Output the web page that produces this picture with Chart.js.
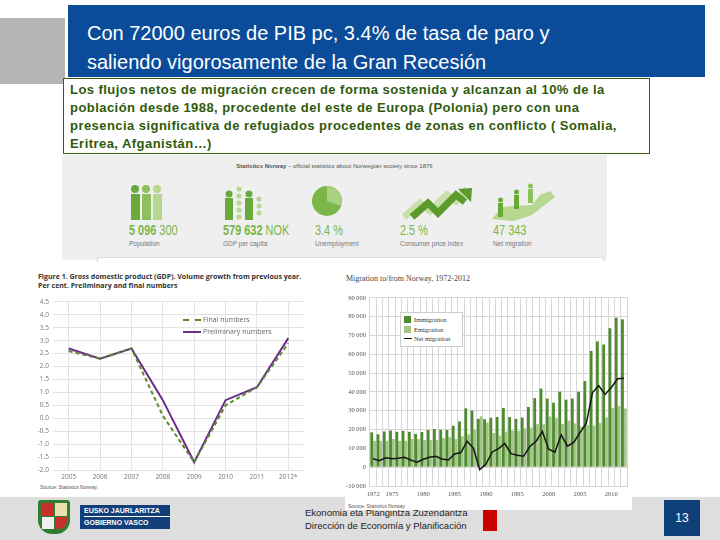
<!DOCTYPE html>
<html>
<head>
<meta charset="utf-8">
<script src="https://cdn.jsdelivr.net/npm/chart.js@4/dist/chart.umd.min.js"></script>
<style>
  body { margin: 0; width: 720px; height: 540px; overflow: hidden; background: #fff; position: relative; font-family: "Liberation Sans", Arial, sans-serif; }
  .abs { position: absolute; }
  .gray-sq { left: 0; top: 18px; width: 65px; height: 66px; background: #b5b5b5; }
  .title-bar { left: 68px; top: 5px; width: 637px; height: 72px; background: #0a4c9a; }
  .title { left: 87px; top: 19px; color: #fff; font-size: 20px; line-height: 29px; white-space: nowrap; }
  .note { left: 63px; top: 78px; width: 585px; height: 74px; border: 1px solid #3d5f14; background: #fff; }
  .note p { margin: 0; padding: 2px 0 0 6px; color: #2f5a0c; font-weight: bold; font-size: 13px; letter-spacing: 0.45px; line-height: 18px; white-space: nowrap; }
  .banner { left: 62px; top: 155px; width: 545px; height: 105px; background: #efefef; }
  .banner .head { position: absolute; left: 0; width: 545px; top: 8px; text-align: center; font-size: 6px; color: #555; }
  .stat { position: absolute; top: 67px; }
  .stat .num { font-size: 14px; color: #7ab648; white-space: nowrap; transform: scaleX(0.78); transform-origin: left; }
  .stat .num b { font-weight: bold; }
  .stat .lbl { font-size: 6.5px; color: #777; margin-top: 2px; white-space: nowrap; }
  .inner-box { left: 97px; top: 257px; width: 505px; height: 4px; border: 1px solid #ddd; border-bottom: none; background: #fff; }
  .gdp-title { left: 38px; top: 272px; font-size: 7px; font-weight: bold; color: #333; line-height: 9px; font-family: "Open Sans", sans-serif; white-space: nowrap; }
  .src { font-size: 5px; color: #555; }
  .gdp-legend { left: 183px; top: 314px; font-size: 7px; color: #666; font-family: "Open Sans", sans-serif; line-height: 12px; }
  .gdp-legend span.sw { display: inline-block; width: 18px; vertical-align: middle; margin-right: 2px; }
  .mig-box { left: 345px; top: 268px; width: 287px; height: 242px; background: #fff; }
  .mig-title { left: 346px; top: 274px; font-size: 8px; color: #444; font-family: "Liberation Serif", serif; }
  .mig-legend { left: 400px; top: 312px; width: 55px; padding: 2px 3px; border: 1px solid #ccc; background: #fff; font-family: "Liberation Serif", serif; font-size: 6.5px; color: #333; line-height: 9.5px; }
  .mig-legend .sq { display: inline-block; width: 7px; height: 7px; vertical-align: -1px; margin-right: 3px; }
  .mig-legend .ln { display: inline-block; width: 8px; height: 1.5px; background: #111; vertical-align: 2px; margin-right: 2px; }
  .footer { left: 0; top: 497px; width: 720px; height: 43px; background: #dedede; }
  .eusko { left: 80px; top: 505px; width: 90px; height: 24px; background: #123f78; color: #fff; font-size: 7px; font-weight: bold; line-height: 11px; padding-left: 4px; box-sizing: border-box; }
  .eusko div:first-child { border-bottom: 1px solid #fff; }
  .dir { left: 305px; top: 506px; font-size: 9.5px; color: #222; line-height: 13px; }
  .red { left: 483px; top: 508px; width: 14px; height: 23px; background: #cc0000; }
  .page { left: 664px; top: 500px; width: 36px; height: 36px; background: #0f3f78; color: #fff; font-size: 12px; text-align: center; line-height: 36px; }
</style>
</head>
<body>
<div class="abs gray-sq"></div>
<div class="abs title-bar"></div>
<div class="abs title">Con 72000 euros de PIB pc, 3.4% de tasa de paro y<br>saliendo vigorosamente de la Gran Recesión</div>
<div class="abs note"><p>Los flujos netos de migración crecen de forma sostenida y alcanzan al 10% de la<br>población desde 1988, procedente del este de Europa (Polonia) pero con una<br>presencia significativa de refugiados procedentes de zonas en conflicto ( Somalia,<br>Eritrea, Afganistán…)</p></div>

<div class="abs banner">
  <div class="head"><b>Statistics Norway</b> – official statistics about Norwegian society since 1876</div>
  <svg class="abs" style="left:0;top:0" width="545" height="70">
    <!-- population -->
    <g><circle cx="73" cy="34" r="4" fill="#6aa83a"/><rect x="69" y="39" width="9" height="26" fill="#6aa83a"/>
       <circle cx="84" cy="34" r="4" fill="#8cc05a"/><rect x="80" y="39" width="9" height="26" fill="#8cc05a"/>
       <circle cx="95" cy="34" r="4" fill="#b5d78f"/><rect x="91" y="39" width="9" height="26" fill="#b5d78f"/></g>
    <!-- gdp -->
    <g><circle cx="167" cy="39" r="3.5" fill="#6aa83a"/><rect x="163" y="43" width="8" height="22" fill="#6aa83a"/>
       <circle cx="177" cy="34" r="2.5" fill="#b5d78f"/><circle cx="177" cy="41" r="2.5" fill="#b5d78f"/><circle cx="177" cy="48" r="2.5" fill="#b5d78f"/><circle cx="177" cy="55" r="2.5" fill="#b5d78f"/><circle cx="177" cy="62" r="2.5" fill="#b5d78f"/>
       <circle cx="187" cy="39" r="3.5" fill="#6aa83a"/><rect x="183" y="43" width="8" height="22" fill="#6aa83a"/>
       <circle cx="197" cy="44" r="2.5" fill="#b5d78f"/><circle cx="197" cy="51" r="2.5" fill="#b5d78f"/><circle cx="197" cy="58" r="2.5" fill="#b5d78f"/></g>
    <!-- unemployment pie -->
    <circle cx="265" cy="46" r="15" fill="#7ab648"/>
    <path d="M265 46 L265 31 A15 15 0 0 1 279 51 Z" fill="#a9d17f"/>
    <!-- cpi arrows -->
    <polyline points="342,62 358,48 368,56 385,40 394,46 405,34" fill="none" stroke="#c6e0a8" stroke-width="7"/>
    <polyline points="350,62 366,48 376,58 394,40 403,47" fill="none" stroke="#5c9a2c" stroke-width="7"/>
    <polygon points="396,34 410,33 409,47" fill="#5c9a2c"/>
    <!-- net migration -->
    <polygon points="430,64 440,52 470,50 478,40 488,36 493,42 480,52 470,60 452,66" fill="#b5d78f"/>
    <rect x="436" y="48" width="5" height="14" fill="#6aa83a"/><circle cx="438.5" cy="45" r="2.5" fill="#6aa83a"/>
    <rect x="452" y="40" width="5" height="14" fill="#6aa83a"/><circle cx="454.5" cy="37" r="2.5" fill="#6aa83a"/>
    <rect x="466" y="34" width="5" height="14" fill="#8cc05a"/><circle cx="468.5" cy="31" r="2.5" fill="#8cc05a"/>
  </svg>
  <div class="stat" style="left:67px"><div class="num"><b>5 096</b> 300</div><div class="lbl">Population</div></div>
  <div class="stat" style="left:161px"><div class="num"><b>579 632</b> NOK</div><div class="lbl">GDP per capita</div></div>
  <div class="stat" style="left:253px"><div class="num">3.4 %</div><div class="lbl">Unemployment</div></div>
  <div class="stat" style="left:338px"><div class="num">2.5 %</div><div class="lbl">Consumer price index</div></div>
  <div class="stat" style="left:431px"><div class="num">47 343</div><div class="lbl">Net migration</div></div>
</div>
<div class="abs inner-box"></div>

<div class="abs gdp-title">Figure 1. Gross domestic product (GDP). Volume growth from previous year.<br>Per cent. Preliminary and final numbers</div>
<canvas id="gdpChart" class="abs" style="left:33px;top:294px" width="275" height="188"></canvas>
<div class="abs gdp-legend">
  <div><span class="sw" style="border-top:2px dashed #5a8a2a"></span>Final numbers</div>
  <div><span class="sw" style="border-top:2px solid #6b2d8c"></span>Preliminary numbers</div>
</div>
<div class="abs src" style="left:40px;top:484px">Source: Statistics Norway.</div>

<div class="abs footer"></div>
<div class="abs" style="left:38px;top:500px;width:32px;height:34px;background:#2f7d32;border-radius:3px 3px 14px 14px"></div>
<div class="abs" style="left:42px;top:503px;width:12px;height:13px;background:#c8302c"></div>
<div class="abs" style="left:55px;top:503px;width:12px;height:13px;background:#e8e0b0"></div>
<div class="abs" style="left:42px;top:517px;width:12px;height:12px;background:#f0f0f0"></div>
<div class="abs" style="left:55px;top:517px;width:12px;height:12px;background:#c8302c;border-radius:0 0 8px 0"></div>
<div class="abs eusko"><div>EUSKO JAURLARITZA</div><div>GOBIERNO VASCO</div></div>
<div class="abs dir">Ekonomia eta Plangintza Zuzendaritza<br>Dirección de Economía y Planificación</div>
<div class="abs red"></div>
<div class="abs page">13</div>

<div class="abs mig-box"></div>
<div class="abs mig-title">Migration to/from Norway, 1972-2012</div>
<canvas id="migChart" class="abs" style="left:343px;top:290px" width="290" height="210"></canvas>
<div class="abs mig-legend">
  <div><span class="sq" style="background:#4e8a2e"></span>Immigration</div>
  <div><span class="sq" style="background:#a3c585"></span>Emigration</div>
  <div><span class="ln"></span>Net migration</div>
</div>
<div class="abs src" style="left:348px;top:503px">Source: Statistics Norway</div>

<script>
// GDP growth, per cent
const gdpYears = ['2005', '2006', '2007', '2008', '2009', '2010', '2011', '2012*'];
const gdpFinal = [2.6, 2.3, 2.7, 0.1, -1.7, 0.5, 1.2, 2.9];
const gdpPreliminary = [2.7, 2.3, 2.7, 0.7, -1.7, 0.7, 1.2, 3.1];

// Migration to/from Norway
const migYears = ['1972', '1973', '1974', '1975', '1976', '1977', '1978', '1979', '1980', '1981',
    '1982', '1983', '1984', '1985', '1986', '1987', '1988', '1989', '1990', '1991',
    '1992', '1993', '1994', '1995', '1996', '1997', '1998', '1999', '2000', '2001',
    '2002', '2003', '2004', '2005', '2006', '2007', '2008', '2009', '2010', '2011', '2012'];
const immigration = [18500, 17500, 19000, 19500, 18800, 19300, 18800, 17700, 18700, 19800,
    20300, 19900, 19800, 22000, 24300, 31300, 30100, 25700, 25500, 26300,
    26700, 31500, 26700, 25700, 26400, 32000, 36700, 41800, 36500, 34300,
    40100, 35900, 36500, 40100, 45800, 61800, 66900, 65200, 73900, 79500, 78600];
const emigration = [14000, 14000, 14000, 15000, 14000, 14000, 15000, 15000, 14500, 14500,
    14500, 15500, 16000, 15000, 16500, 17500, 20000, 27000, 23800, 18200,
    16800, 18900, 19500, 19300, 20600, 21000, 22900, 22800, 26900, 26300,
    22900, 24700, 23300, 21700, 22500, 22100, 23600, 26500, 31500, 32500, 31200];
const netMigration = [4500, 3500, 5000, 4500, 4800, 5300, 3800, 2700, 4200, 5300,
    5800, 4400, 3800, 7000, 7800, 13800, 10100, -1300, 1700, 8100,
    9900, 12600, 7200, 6400, 5800, 11000, 13800, 19000, 9600, 8000,
    17200, 11200, 13200, 18400, 23300, 39700, 43300, 38700, 42400, 47000, 47300];
const migTickYears = ['1972', '1975', '1980', '1985', '1990', '1995', '2000', '2005', '2010'];

Chart.defaults.animation = false;
Chart.defaults.devicePixelRatio = 1;

function createGdpChart() {
    const ctx = document.getElementById('gdpChart').getContext('2d');
    new Chart(ctx, {
        type: 'line',
        data: {
            labels: gdpYears,
            datasets: [
                {
                    label: 'Final numbers',
                    data: gdpFinal,
                    borderColor: '#5a8a2a',
                    borderWidth: 2,
                    borderDash: [4, 3],
                    pointRadius: 0,
                    tension: 0
                },
                {
                    label: 'Preliminary numbers',
                    data: gdpPreliminary,
                    borderColor: '#6b2d8c',
                    borderWidth: 2,
                    pointRadius: 0,
                    tension: 0
                }
            ]
        },
        options: {
            responsive: false,
            layout: { padding: { top: 6, right: 4 } },
            plugins: { legend: { display: false }, tooltip: { enabled: false } },
            scales: {
                x: {
                    offset: true,
                    grid: { color: '#e3e3e3', offset: false, drawTicks: false },
                    border: { color: '#e3e3e3' },
                    ticks: { color: '#777', font: { size: 6.5, family: 'Open Sans' }, padding: 3, maxRotation: 0 },
                    afterFit: (s) => { s.height = 12; }
                },
                y: {
                    min: -2,
                    max: 4.5,
                    grid: { color: '#e3e3e3', drawTicks: false },
                    border: { display: false },
                    ticks: {
                        stepSize: 0.5,
                        color: '#777',
                        font: { size: 6.5, family: 'Open Sans' },
                        padding: 4,
                        callback: (value) => value.toFixed(1)
                    },
                    afterFit: (s) => { s.width = 20; }
                }
            }
        }
    });
}

function createMigrationChart() {
    const ctx = document.getElementById('migChart').getContext('2d');
    new Chart(ctx, {
        type: 'bar',
        data: {
            labels: migYears,
            datasets: [
                {
                    type: 'line',
                    label: 'Net migration',
                    data: netMigration,
                    borderColor: '#151515',
                    borderWidth: 1.5,
                    pointRadius: 0,
                    tension: 0,
                    order: 0
                },
                {
                    label: 'Immigration',
                    data: immigration,
                    backgroundColor: '#4e8a2e',
                    categoryPercentage: 0.9,
                    barPercentage: 1,
                    order: 1
                },
                {
                    label: 'Emigration',
                    data: emigration,
                    backgroundColor: '#a3c585',
                    categoryPercentage: 0.9,
                    barPercentage: 1,
                    order: 1
                }
            ]
        },
        options: {
            responsive: false,
            layout: { padding: { top: 5, right: 6 } },
            plugins: { legend: { display: false }, tooltip: { enabled: false } },
            scales: {
                x: {
                    grid: { color: '#d6d6d6', drawTicks: false },
                    border: { color: '#d6d6d6' },
                    ticks: {
                        autoSkip: false,
                        maxRotation: 0,
                        color: '#555',
                        padding: 4,
                        font: { size: 6.5, family: 'Liberation Serif' },
                        callback: (value, i) => migTickYears.includes(migYears[i]) ? migYears[i] : ''
                    },
                    afterFit: (s) => { s.height = 14; }
                },
                y: {
                    min: -10000,
                    max: 90000,
                    grid: { color: '#d6d6d6', drawTicks: false },
                    border: { display: false },
                    ticks: {
                        stepSize: 10000,
                        color: '#555',
                        padding: 4,
                        font: { size: 6.5, family: 'Liberation Serif' },
                        callback: (value) => value.toLocaleString('en-US').replace(',', ' ')
                    },
                    afterFit: (s) => { s.width = 27; }
                }
            }
        }
    });
}

createGdpChart();
createMigrationChart();
</script>
</body>
</html>
